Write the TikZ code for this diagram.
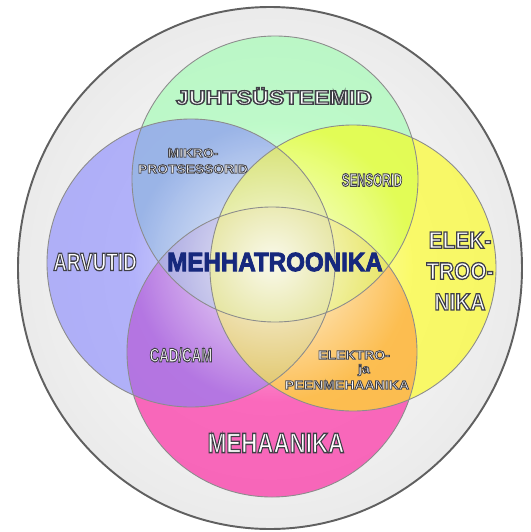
\documentclass[tikz,border=0pt]{standalone}
\usepackage{fontspec}
\setmainfont{Liberation Sans}[UprightFont={* Bold}]
\usepackage{graphicx}
\usetikzlibrary{fadings}

\definecolor{cgreen}{RGB}{150,255,170}
\definecolor{cblue}{RGB}{128,128,255}
\definecolor{cyellow}{RGB}{255,255,0}
\definecolor{cpink}{RGB}{255,0,146}
\definecolor{mhblue}{RGB}{22,40,125}

\tikzfading[name=midfade, inner color=transparent!12, outer color=transparent!100]

% outlined, horizontally scaled label text
\newcommand{\olw}{0.75}
\newcommand{\olc}{0.25 0.25 0.28}
\newcommand{\olt}[2]{\scalebox{#1}[1]{\special{pdf:literal direct 2 Tr \olw\space w \olc\space RG}#2\special{pdf:literal direct 0 Tr}}}

\begin{document}
\begin{tikzpicture}[x=0.02cm,y=-0.02cm,
  rim/.style={draw=black!45,line width=0.5pt},
  setfill/.style={fill=#1,fill opacity=0.57},
  lbl/.style={inner sep=0pt,text=white,align=center}]
\useasboundingbox (0,0) rectangle (531,532);
\coordinate (mid) at (270,268);
\coordinate (cg) at (275,179);
\coordinate (cb) at (191,263);
\coordinate (cy) at (353,268);
\coordinate (cp) at (272,352);
\coordinate (cm) at (272,262);
% outer disc
\shade[inner color=white,outer color=gray!16] (mid) ellipse [x radius=252,y radius=261];
\draw[gray!75!black,line width=1.1pt] (mid) ellipse [x radius=252,y radius=261];
% the four sets
\fill[setfill=cpink] (cp) circle [radius=145];
\fill[setfill=cgreen] (cg) circle [radius=143];
\fill[setfill=cblue] (cb) circle [radius=144];
\fill[setfill=cyellow] (cy) circle [radius=143];
\fill[white,path fading=midfade] (cm) circle [radius=140];
\draw[rim] (cg) circle [radius=143] (cb) circle [radius=144]
  (cy) circle [radius=143] (cp) circle [radius=145];
% labels
\node[lbl,font=\fontsize{11.1}{13}\selectfont] (juht) at (274,96) {\olt{1.19}{JUHTSÜSTEEMID}};
\node[lbl,font=\fontsize{7.15}{9.1}\selectfont\def\olw{0.45}] (mikro) at (193,161)
  {\olt{1.1}{MIKRO-}\\\olt{1.1}{PROTSESSORID}};
\node[lbl,font=\fontsize{10.3}{12}\selectfont\def\olw{0.6}] (sens) at (372,180) {\olt{0.64}{SENSORID}};
\node[lbl,font=\fontsize{14.3}{16}\selectfont] (arv) at (95,262) {\olt{0.75}{ARVUTID}};
\node[lbl,text=mhblue,font=\fontsize{15.1}{17}\selectfont\def\olw{0.5}\def\olc{0.09 0.16 0.49}] (mht) at (275,262)
  {\olt{0.91}{MEHHATROONIKA}};
\node[lbl,font=\fontsize{13.5}{17.6}\selectfont] (elt) at (460,271)
  {\olt{0.88}{ELEK-}\\\olt{0.88}{TROO-}\\\olt{0.88}{NIKA}};
\node[lbl,font=\fontsize{11.1}{13}\selectfont\def\olw{0.6}] (cadcam) at (181,355) {\olt{0.68}{CAD/CAM}};
\node[lbl,font=\fontsize{7.15}{9}\selectfont\def\olw{0.45}] (ep1) at (354,355) {\olt{1.12}{ELEKTRO-}};
\node[lbl,font=\fontsize{7.15}{9}\selectfont\def\olw{0.45}] (ep2) at (364,370) {\olt{1.12}{ja}};
\node[lbl,font=\fontsize{7.15}{9}\selectfont\def\olw{0.45}] (ep3) at (347,385) {\olt{1.12}{PEENMEHAANIKA}};
\node[lbl,font=\fontsize{15.9}{18}\selectfont] (meha) at (276,443) {\olt{0.80}{MEHAANIKA}};
\end{tikzpicture}
\end{document}
